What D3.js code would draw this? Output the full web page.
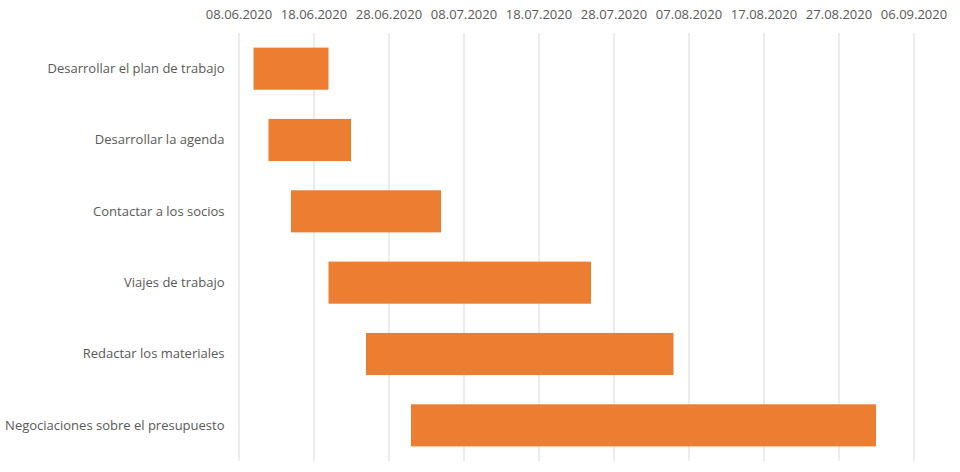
<!DOCTYPE html>
<html><head><meta charset="utf-8">
<script src="https://cdn.jsdelivr.net/npm/d3@7"></script>
<style>
body{margin:0;background:#fff;}
text{font-family:"Open Sans",sans-serif;fill:#595959;}
</style></head>
<body><svg id="c" width="960" height="472"></svg>
<script>
const tasks = ["Desarrollar el plan de trabajo","Desarrollar la agenda","Contactar a los socios","Viajes de trabajo","Redactar los materiales","Negociaciones sobre el presupuesto"];
const startDates = ["2020-06-10","2020-06-12","2020-06-15","2020-06-20","2020-06-25","2020-07-01"];
const endDates = ["2020-06-20","2020-06-23","2020-07-05","2020-07-25","2020-08-05","2020-09-01"];
const tickDates = ["2020-06-08","2020-06-18","2020-06-28","2020-07-08","2020-07-18","2020-07-28","2020-08-07","2020-08-17","2020-08-27","2020-09-06"];

const parse = d3.utcParse("%Y-%m-%d");
const fmt = d3.utcFormat("%d.%m.%Y");
const svg = d3.select("#c");
const mLeft = 238.5, mRight = 913.5, mTop = 33, mBottom = 461;

const x = d3.scaleUtc().domain([parse(tickDates[0]), parse(tickDates[tickDates.length-1])]).range([mLeft, mRight]);
const y = d3.scaleBand().domain(tasks).range([mTop, mBottom]).paddingInner(0.41).paddingOuter(0.205);

const xAxis = d3.axisTop(x).tickValues(tickDates.map(parse)).tickFormat(fmt).tickSize(-(mBottom-mTop)).tickPadding(17);
const gx = svg.append("g").attr("transform", `translate(0,${mTop})`).call(xAxis);
gx.select(".domain").remove();
gx.selectAll(".tick line").attr("stroke", "#d9d9d9").attr("stroke-width", 1);
gx.selectAll(".tick text").attr("font-size", 13).attr("font-family", "'Open Sans',sans-serif").attr("fill", "#595959").attr("dy", "0.2em");

const data = tasks.map((t,i)=>({t, s: parse(startDates[i]), e: parse(endDates[i])}));
svg.append("g").selectAll("rect").data(data).join("rect")
  .attr("x", d=>x(d.s)).attr("width", d=>x(d.e)-x(d.s))
  .attr("y", d=>y(d.t)).attr("height", y.bandwidth())
  .attr("fill", "#ED7D31");

const yAxis = d3.axisLeft(y).tickSize(0).tickPadding(14);
const gy = svg.append("g").attr("transform", `translate(${mLeft},0)`).call(yAxis);
gy.select(".domain").remove();
gy.selectAll(".tick text").attr("font-size", 13).attr("font-family", "'Open Sans',sans-serif").attr("fill", "#595959");
</script></body></html>
